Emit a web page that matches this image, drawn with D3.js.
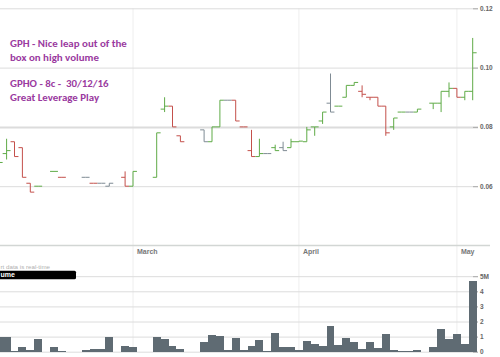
<!DOCTYPE html>
<html><head><meta charset="utf-8">
<script src="https://cdn.jsdelivr.net/npm/d3@7"></script>
<style>
html,body{margin:0;padding:0;background:#fff;}
svg{display:block;}
</style></head>
<body>
<svg id="chart" width="500" height="357"></svg>
<script>
// ---- data (GPH daily OHLC, prices in $, volume in millions) ----
const days = ["2016-02-05","2016-02-08","2016-02-09","2016-02-10","2016-02-11","2016-02-12","2016-02-15","2016-02-16","2016-02-17","2016-02-18","2016-02-19","2016-02-22","2016-02-23","2016-02-24","2016-02-25","2016-02-26","2016-02-29",
"2016-03-01","2016-03-02","2016-03-03","2016-03-04","2016-03-07","2016-03-08","2016-03-09","2016-03-10","2016-03-11","2016-03-14","2016-03-15","2016-03-16","2016-03-17","2016-03-18","2016-03-21","2016-03-22","2016-03-23","2016-03-24","2016-03-29","2016-03-30","2016-03-31",
"2016-04-01","2016-04-04","2016-04-05","2016-04-06","2016-04-07","2016-04-08","2016-04-11","2016-04-12","2016-04-13","2016-04-14","2016-04-15","2016-04-18","2016-04-19","2016-04-20","2016-04-21","2016-04-22","2016-04-26","2016-04-27","2016-04-28","2016-04-29",
"2016-05-02","2016-05-03","2016-05-04"];
const open  = [0.066,0.071,0.075,0.073,0.061,0.060,null,0.065,0.063,null,null,0.063,0.061,0.061,0.060,null,0.063,
0.060,null,null,0.063,0.086,0.087,0.077,null,null,0.079,0.075,0.080,0.089,0.089,0.080,0.072,0.070,0.071,0.073,0.073,0.073,
0.075,0.075,0.080,0.082,0.088,0.087,0.090,0.094,0.092,0.090,0.090,0.087,0.080,0.085,0.085,0.085,null,0.088,0.088,0.092,
0.093,0.090,0.092];
const high  = [0.068,0.076,0.075,0.073,0.061,0.060,null,0.065,0.063,null,null,0.063,0.061,0.061,0.061,null,0.065,
0.065,null,null,0.078,0.090,0.087,0.077,null,null,0.079,0.080,0.089,0.089,0.089,0.080,0.079,0.076,0.071,0.074,0.075,0.076,
0.0752,0.080,0.080,0.085,0.098,0.087,0.094,0.095,0.094,0.090,0.090,0.087,0.083,0.085,0.085,0.086,null,0.088,0.092,0.095,
0.093,0.092,0.110];
const low   = [0.066,0.069,0.070,0.063,0.058,0.060,null,0.065,0.063,null,null,0.063,0.061,0.061,0.060,null,0.060,
0.060,null,null,0.063,0.085,0.080,0.075,null,null,0.075,0.075,0.080,0.089,0.082,0.080,0.070,0.070,0.071,0.072,0.072,0.073,
0.075,0.075,0.077,0.081,0.085,0.087,0.090,0.094,0.090,0.089,0.087,0.077,0.079,0.085,0.085,0.085,null,0.086,0.085,0.090,
0.090,0.089,0.089];
const close = [0.068,0.072,0.070,0.063,0.058,0.060,null,0.065,0.063,null,null,0.063,0.061,0.061,0.061,null,0.060,
0.065,null,null,0.078,0.087,0.080,0.075,null,null,0.075,0.080,0.089,0.089,0.082,0.080,0.070,0.071,0.071,0.072,0.072,0.075,
0.0752,0.079,0.080,0.085,0.085,0.087,0.094,0.095,0.091,0.090,0.087,0.078,0.083,0.085,0.085,0.086,null,0.088,0.092,0.093,
0.090,0.092,0.105];
const volume = [1.0,1.0,0.07,0.3,0.13,0.85,0,0.33,0.05,0,0,0.13,0.2,0.2,1.0,0,0.38,
0.3,0,0,1.0,0.83,0.38,0.18,0,0,0.67,1.1,1.05,0.1,0.9,0.1,0.38,0.78,0.07,1.22,0.33,0.33,
0.1,0.73,0.49,0.38,1.69,0.45,0.93,0.63,0.18,0.63,0.22,1.18,0.1,0.05,0.05,0.12,0,0.3,1.49,0.82,
1.18,0.53,4.67];
const priceTicks = [0.06,0.08,0.10,0.12];
const volumeTicks = [0,1,2,3,4,5];
const monthStarts = ["2016-03-01","2016-04-01","2016-05-02"];
const monthLabels = ["March","April","May"];
const notes = ["GPH - Nice leap out of the","box on high volume","GPHO - 8c -  30/12/16","Great Leverage Play"];
const dataNote = "rt data is real-time";   // visible part of the panel caption
const volumeLabel = "ume";                  // visible part of the volume tag

// ---- chart ----
const svg = d3.select("#chart");
const W = 478;
const x = d3.scaleBand().domain(days).range([-5.25, 476.65]).padding(0);
const cx = d => x(d) + x.bandwidth()/2;
const half = x.bandwidth()/2;
const y = d3.scaleLinear().domain([0.04, 0.12]).range([245.5, 8.3]);
const yv = d3.scaleLinear().domain([0, 5]).range([351.7, 276.2]);
const axisFont = "'Liberation Sans', Arial, sans-serif";

// vertical month gridlines
svg.append("g").selectAll("line").data(monthStarts).join("line")
  .attr("x1", d => cx(d)).attr("x2", d => cx(d))
  .attr("y1", 8.3).attr("y2", 351.7)
  .attr("stroke", "#eeeeee").attr("stroke-width", 1);

// price axis + gridlines
const pa = svg.append("g").attr("transform", `translate(${W},0)`)
  .call(d3.axisRight(y).tickValues(priceTicks).tickSize(-W).tickPadding(2).tickFormat(d3.format(".2f")));
pa.select(".domain").remove();
pa.selectAll(".tick line").attr("stroke", "#dcdcdc")
  .attr("stroke-width", d => d === 0.08 ? 2 : 1);
pa.selectAll(".tick").append("line").attr("x1", -5).attr("x2", 0).attr("stroke", "#aaa");
pa.selectAll(".tick text").attr("font-family", axisFont).attr("font-size", 6.5)
  .attr("font-weight", "bold").attr("fill", "#666");

// separator line
svg.append("line").attr("x1", 0).attr("x2", 490).attr("y1", 245.5).attr("y2", 245.5)
  .attr("stroke", "#d2d6d4").attr("stroke-width", 1.5);

// month labels
svg.append("g").selectAll("text").data(monthStarts).join("text")
  .attr("x", d => cx(d) + 4).attr("y", 254)
  .attr("font-family", axisFont).attr("font-size", 7).attr("font-weight", "bold")
  .attr("fill", "#777").text((d, i) => monthLabels[i]);

// volume axis + gridlines
const va = svg.append("g").attr("transform", `translate(${W},0)`)
  .call(d3.axisRight(yv).tickValues(volumeTicks).tickSize(-W).tickPadding(2)
    .tickFormat(d => d === 5 ? "5M" : String(d)));
va.select(".domain").remove();
va.selectAll(".tick line").attr("stroke", "#dcdcdc");
va.selectAll(".tick").append("line").attr("x1", -5).attr("x2", 0).attr("stroke", "#aaa");
va.selectAll(".tick text").attr("font-family", axisFont).attr("font-size", 6.5)
  .attr("font-weight", "bold").attr("fill", "#666");

// volume bars
const vidx = d3.range(days.length).filter(i => volume[i] > 0);
svg.append("g").selectAll("rect").data(vidx).join("rect")
  .attr("x", i => x(days[i])).attr("width", x.bandwidth())
  .attr("y", i => yv(volume[i])).attr("height", i => yv(0) - yv(volume[i]))
  .attr("fill", "#5f6b73").attr("shape-rendering", "crispEdges");

// legend labels
svg.append("text").attr("x", 0.5).attr("y", 268.5)
  .attr("font-family", axisFont).attr("font-size", 6.2).attr("fill", "#b0b0b0")
  .text(dataNote);
svg.append("rect").attr("x", -30).attr("y", 270.7).attr("width", 106).attr("height", 8.6)
  .attr("rx", 1.5).attr("fill", "#000");
svg.append("text").attr("x", 0.5).attr("y", 277.3)
  .attr("font-family", axisFont).attr("font-size", 7).attr("font-weight", "bold")
  .attr("fill", "#fff").text(volumeLabel);

// OHLC bars
const GREEN = "#5fab47", RED = "#c4504b", GRAY = "#7f8b94";
const bars = [];
let prev = null;
days.forEach((d, i) => {
  if (open[i] == null) return;
  const ref = prev == null ? open[i] : prev;
  const col = close[i] > ref ? GREEN : close[i] < ref ? RED : GRAY;
  bars.push({d, i, col});
  prev = close[i];
});
const bg = svg.append("g").attr("fill", "none").attr("stroke-width", 1);
const bsel = bg.selectAll("g").data(bars).join("g").attr("stroke", b => b.col);
bsel.filter(b => high[b.i] > low[b.i]).append("line")
  .attr("x1", b => cx(b.d)).attr("x2", b => cx(b.d))
  .attr("y1", b => y(high[b.i])).attr("y2", b => y(low[b.i]));
bsel.append("line")
  .attr("x1", b => cx(b.d) - half).attr("x2", b => cx(b.d))
  .attr("y1", b => y(open[b.i])).attr("y2", b => y(open[b.i]));
bsel.append("line")
  .attr("x1", b => cx(b.d)).attr("x2", b => cx(b.d) + half)
  .attr("y1", b => y(close[b.i])).attr("y2", b => y(close[b.i]));

// annotation
svg.append("g").selectAll("text").data(notes).join("text")
  .attr("x", 10).attr("y", (d, i) => [47.3, 60.6, 87.4, 100.7][i])
  .attr("font-family", "Carlito, Lato, 'Open Sans', sans-serif")
  .attr("font-size", 10.9).attr("font-weight", 600)
  .attr("fill", "#9a3aa0").style("white-space", "pre").text(d => d);
</script>
</body></html>
